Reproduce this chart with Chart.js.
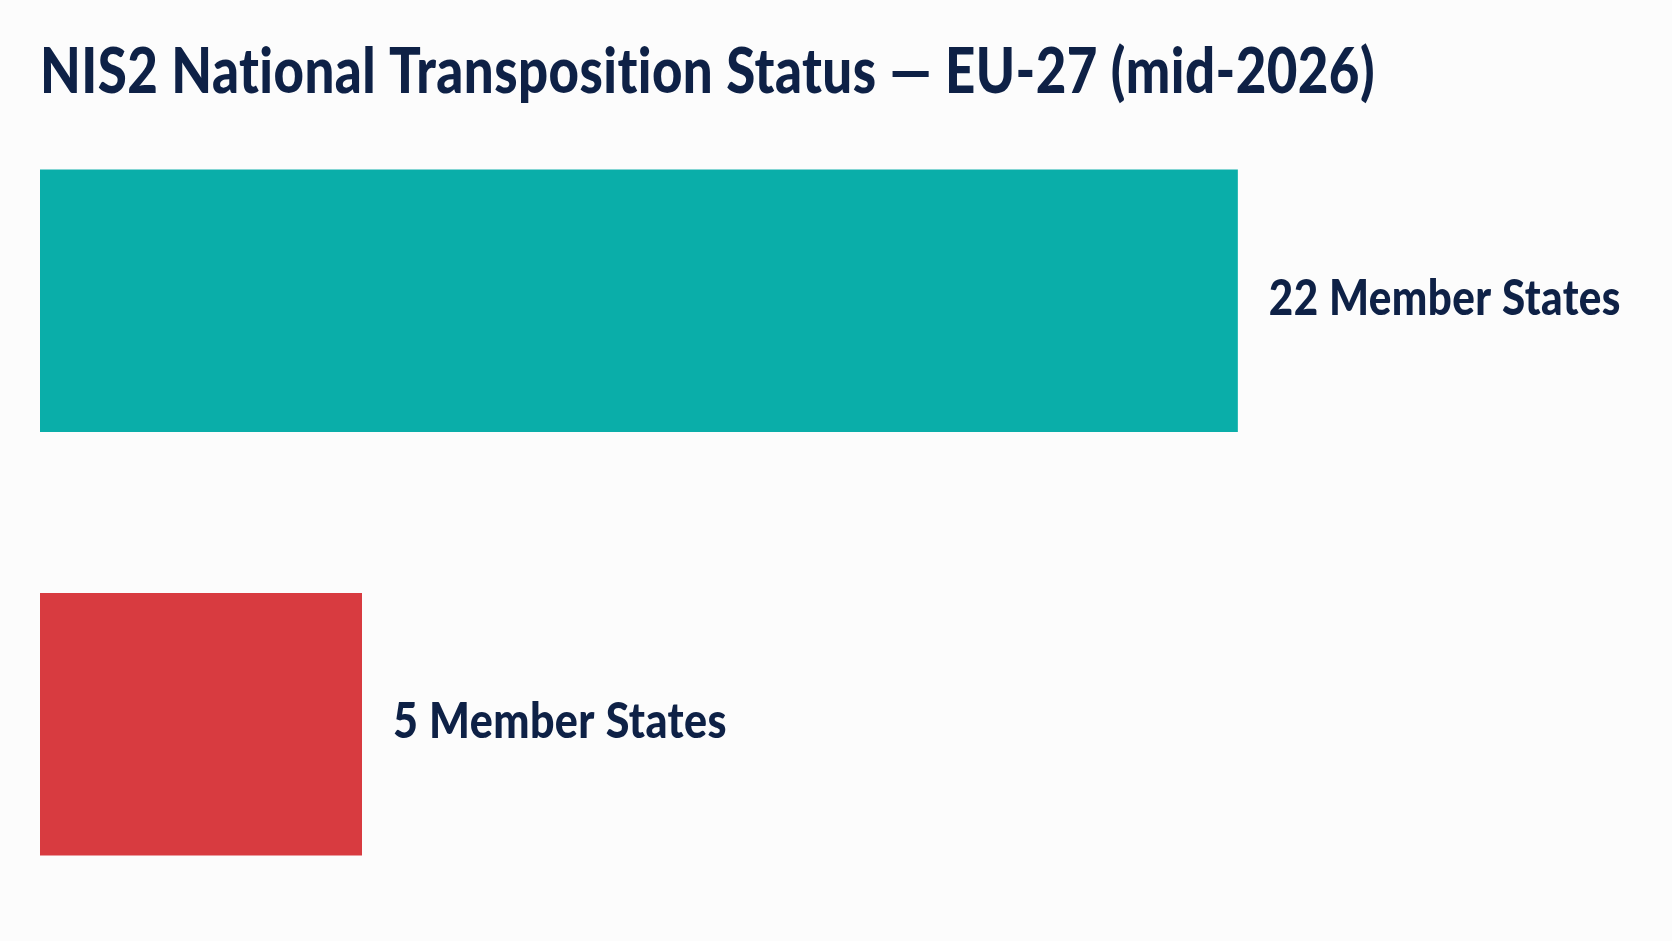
<!DOCTYPE html>
<html>
<head>
<meta charset="utf-8">
<script src="https://cdn.jsdelivr.net/npm/chart.js@4.4.1/dist/chart.umd.min.js"></script>
<style>
  html, body { margin: 0; padding: 0; background: #fcfcfc; }
  #wrap { width: 1672px; height: 941px; position: relative; }
</style>
</head>
<body>
<div id="wrap"><canvas id="c"></canvas></div>
<script>
// ---- data ----
const titleText = "NIS2 National Transposition Status — EU-27 (mid-2026)";
const categories = ["Transposed", "Not yet transposed"];
const memberStates = [22, 5];
const valueLabels = ["22 Member States", "5 Member States"];
const barColors = ["#0aaea9", "#d83b40"];

const textColor = "#0e2146";

// title drawn at fixed position above the plot
const titlePlugin = {
  id: "titlePlugin",
  afterDraw(chart) {
    const ctx = chart.ctx;
    ctx.save();
    ctx.font = "900 62px Lato";
    if ("letterSpacing" in ctx) ctx.letterSpacing = "0.5px";
    ctx.fillStyle = textColor;
    ctx.textBaseline = "alphabetic";
    ctx.textAlign = "left";
    const w = ctx.measureText(titleText).width;
    const target = 1335;
    const sx = target / w;
    ctx.translate(40, 93);
    ctx.scale(sx, 1);
    ctx.fillText(titleText, 0, 0);
    ctx.restore();
  }
};

// value labels placed right of each bar end
const labelPlugin = {
  id: "labelPlugin",
  afterDatasetsDraw(chart) {
    const ctx = chart.ctx;
    const meta = chart.getDatasetMeta(0);
    const targets = [352, 334];
    ctx.save();
    ctx.font = "900 50px Lato";
    if ("letterSpacing" in ctx) ctx.letterSpacing = "0.5px";
    ctx.fillStyle = textColor;
    ctx.textBaseline = "middle";
    ctx.textAlign = "left";
    meta.data.forEach((bar, i) => {
      const txt = valueLabels[i];
      const w = ctx.measureText(txt).width;
      const sx = targets[i] / w;
      ctx.save();
      ctx.translate(bar.x + 31, bar.y - 2);
      ctx.scale(sx, 1);
      ctx.fillText(txt, 0, 0);
      ctx.restore();
    });
    ctx.restore();
  }
};

new Chart(document.getElementById("c"), {
  type: "bar",
  data: {
    labels: categories,
    datasets: [{
      data: memberStates,
      backgroundColor: barColors,
      borderWidth: 0,
      base: -1.25,
      barPercentage: 0.62,
      categoryPercentage: 1.0
    }]
  },
  options: {
    indexAxis: "y",
    responsive: true,
    maintainAspectRatio: false,
    animation: false,
    layout: { padding: { left: 40, right: 22, top: 89, bottom: 5 } },
    plugins: {
      legend: { display: false },
      title: { display: false },
      tooltip: { enabled: false }
    },
    scales: {
      x: { display: false, min: -1.25, max: 30 },
      y: { display: false, offset: true }
    }
  },
  plugins: [titlePlugin, labelPlugin]
});
</script>
</body>
</html>
